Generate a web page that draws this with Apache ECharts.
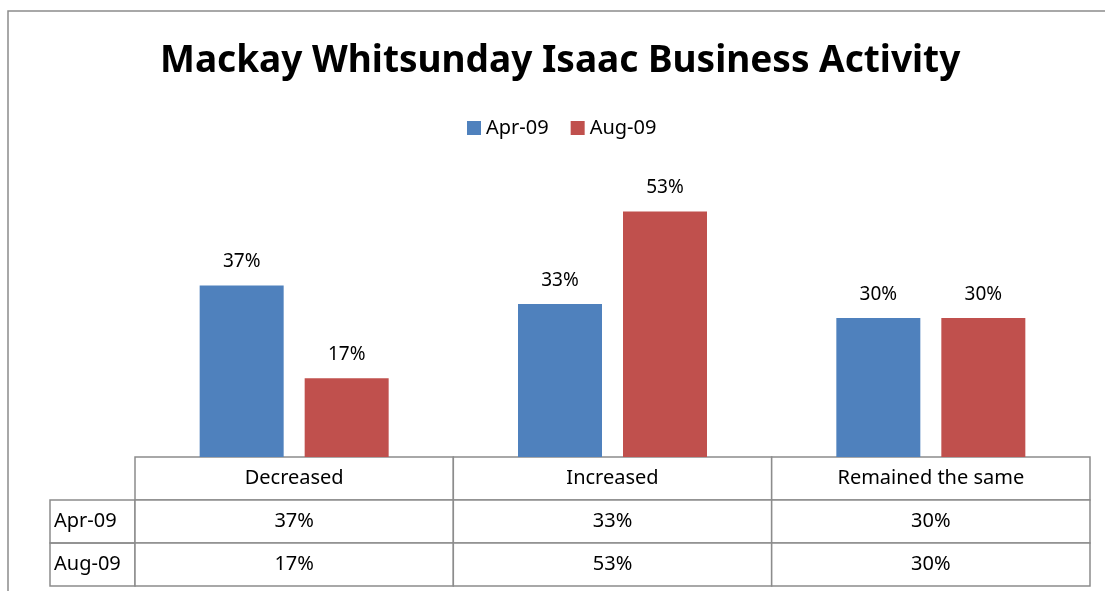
<!DOCTYPE html>
<html>
<head>
<meta charset="utf-8">
<script src="https://cdn.jsdelivr.net/npm/echarts@6/dist/echarts.min.js"></script>
<style>
  html, body { margin: 0; padding: 0; background: #fff; }
  #chart { width: 1105px; height: 591px; }
</style>
</head>
<body>
<div id="chart"></div>
<script>
// chart data
const categories = ['Decreased', 'Increased', 'Remained the same'];
const seriesNames = ['Apr-09', 'Aug-09'];
const apr09 = [37, 33, 30];
const aug09 = [17, 53, 30];

const FONT = '"Noto Sans", "Open Sans", sans-serif';
const LINE = '#8c8c8c';

const chart = echarts.init(document.getElementById('chart'));

// cells of the data table: [column, row]
const rows = ['', seriesNames[0], seriesNames[1]];
const rowValues = [null, apr09, aug09];
const cells = [];
rows.forEach((r, ri) => {
  categories.forEach((c, ci) => cells.push([ci, r]));
});

function cellText(ci, ri) {
  if (ri === 0) return categories[ci];
  return rowValues[ri][ci] + '%';
}

const option = {
  backgroundColor: '#fff',
  animation: false,
  title: {
    text: 'Mackay Whitsunday Isaac Business Activity',
    left: 155,
    top: 38,
    textStyle: { fontFamily: FONT, fontSize: 37, fontWeight: 'bold', color: '#000' }
  },
  legend: {
    data: seriesNames,
    top: 113,
    left: 462,
    icon: 'rect',
    itemWidth: 14,
    itemHeight: 14,
    itemGap: 22,
    textStyle: { fontFamily: FONT, fontSize: 20, color: '#000' }
  },
  graphic: [
    {
      type: 'rect',
      silent: true,
      shape: { x: 8, y: 11, width: 1200, height: 700 },
      style: { fill: 'none', stroke: LINE, lineWidth: 1.5 }
    }
  ],
  grid: [
    { left: 135, right: 15, top: 179, bottom: 134 },
    { left: 135, right: 15, top: 457, bottom: 5 }
  ],
  xAxis: [
    {
      gridIndex: 0,
      type: 'category',
      data: categories,
      axisLine: { show: false },
      axisTick: { show: false },
      axisLabel: { show: false }
    },
    {
      gridIndex: 1,
      type: 'category',
      data: categories,
      axisLine: { show: false },
      axisTick: { show: false },
      axisLabel: { show: false }
    }
  ],
  yAxis: [
    {
      gridIndex: 0,
      type: 'value',
      min: 0,
      max: 60,
      show: false,
      splitLine: { show: false }
    },
    {
      gridIndex: 1,
      type: 'category',
      data: rows,
      inverse: true,
      axisLine: { show: false },
      axisTick: { show: false },
      axisLabel: {
        margin: 0,
        interval: 0,
        hideOverlap: false,
        formatter: v => v ? '{box|' + v + '}' : '',
        rich: {
          box: {
            width: 81,
            height: 43,
            lineHeight: 43,
            align: 'left',
            padding: [0, 0, 0, 4],
            borderColor: LINE,
            borderWidth: 1.5,
            fontFamily: FONT,
            fontSize: 20,
            color: '#000'
          }
        }
      }
    }
  ],
  series: [
    {
      name: seriesNames[0],
      type: 'bar',
      data: apr09,
      barWidth: 84,
      barGap: '25%',
      itemStyle: { color: '#4f81bd' },
      label: {
        show: true,
        position: 'top',
        distance: 14,
        formatter: '{c}%',
        fontFamily: FONT,
        fontSize: 19,
        color: '#000'
      }
    },
    {
      name: seriesNames[1],
      type: 'bar',
      data: aug09,
      barWidth: 84,
      barGap: '25%',
      itemStyle: { color: '#c0504d' },
      label: {
        show: true,
        position: 'top',
        distance: 14,
        formatter: '{c}%',
        fontFamily: FONT,
        fontSize: 19,
        color: '#000'
      }
    },
    {
      type: 'custom',
      xAxisIndex: 1,
      yAxisIndex: 1,
      data: cells,
      renderItem: function (params, api) {
        const ci = api.value(0);
        const ri = api.value(1);
        const c = api.coord([ci, ri]);
        const s = api.size([1, 1]);
        return {
          type: 'rect',
          shape: { x: c[0] - s[0] / 2, y: c[1] - s[1] / 2, width: s[0], height: s[1] },
          style: { fill: '#fff', stroke: LINE, lineWidth: 1.5 },
          textContent: {
            style: {
              text: cellText(ci, ri),
              fontFamily: FONT,
              fontSize: 20,
              fill: '#000'
            }
          },
          textConfig: { position: 'inside' }
        };
      }
    }
  ]
};

chart.setOption(option);
</script>
</body>
</html>
